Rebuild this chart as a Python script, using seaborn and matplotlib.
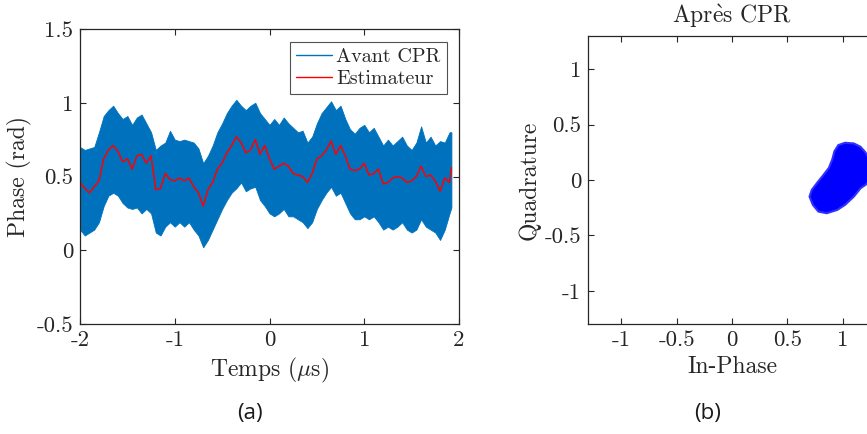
import numpy as np
import pandas as pd
import matplotlib
matplotlib.use("Agg")
import matplotlib.pyplot as plt
from matplotlib.lines import Line2D
import seaborn as sns

# ---------------- data ----------------
t = [-2.00, -1.95, -1.90, -1.85, -1.80, -1.75, -1.70, -1.65, -1.60, -1.55,
     -1.50, -1.45, -1.40, -1.35, -1.30, -1.25, -1.20, -1.15, -1.10, -1.05,
     -1.00, -0.95, -0.90, -0.85, -0.80, -0.75, -0.70, -0.65, -0.60, -0.55,
     -0.50, -0.45, -0.40, -0.35, -0.30, -0.25, -0.20, -0.15, -0.10, -0.05,
     0.00, 0.05, 0.10, 0.15, 0.20, 0.25, 0.30, 0.35, 0.40, 0.45,
     0.50, 0.55, 0.60, 0.65, 0.70, 0.75, 0.80, 0.85, 0.90, 0.95,
     1.00, 1.05, 1.10, 1.15, 1.20, 1.25, 1.30, 1.35, 1.40, 1.45,
     1.50, 1.55, 1.60, 1.65, 1.70, 1.75, 1.80, 1.85, 1.90, 1.92]

avant_upper = [0.70, 0.68, 0.69, 0.70, 0.80, 0.91, 0.95, 0.98, 0.93, 0.89,
               0.91, 0.85, 0.90, 0.92, 0.86, 0.80, 0.68, 0.71, 0.73, 0.81,
               0.75, 0.74, 0.75, 0.74, 0.73, 0.69, 0.59, 0.64, 0.71, 0.80,
               0.86, 0.93, 0.98, 1.02, 0.98, 0.95, 0.98, 1.00, 0.93, 0.89,
               0.85, 0.89, 0.85, 0.90, 0.86, 0.83, 0.80, 0.81, 0.73, 0.77,
               0.86, 0.93, 0.97, 1.01, 0.95, 0.98, 0.89, 0.82, 0.79, 0.83,
               0.85, 0.80, 0.83, 0.77, 0.71, 0.75, 0.71, 0.74, 0.77, 0.71,
               0.68, 0.73, 0.84, 0.73, 0.77, 0.71, 0.74, 0.73, 0.80, 0.80]

avant_lower = [0.14, 0.10, 0.12, 0.14, 0.19, 0.30, 0.37, 0.39, 0.37, 0.32,
               0.29, 0.28, 0.29, 0.25, 0.28, 0.25, 0.12, 0.10, 0.16, 0.19,
               0.16, 0.19, 0.16, 0.19, 0.14, 0.10, 0.02, 0.07, 0.14, 0.21,
               0.28, 0.34, 0.39, 0.42, 0.46, 0.40, 0.42, 0.43, 0.34, 0.30,
               0.25, 0.23, 0.25, 0.28, 0.23, 0.23, 0.21, 0.19, 0.15, 0.19,
               0.28, 0.34, 0.39, 0.43, 0.37, 0.39, 0.32, 0.25, 0.21, 0.21,
               0.23, 0.21, 0.23, 0.19, 0.14, 0.16, 0.14, 0.16, 0.19, 0.14,
               0.12, 0.14, 0.21, 0.16, 0.14, 0.12, 0.07, 0.14, 0.25, 0.29]

estimateur = [0.46, 0.42, 0.39, 0.43, 0.47, 0.62, 0.68, 0.71, 0.67, 0.60,
              0.62, 0.55, 0.64, 0.65, 0.59, 0.64, 0.41, 0.42, 0.52, 0.48,
              0.47, 0.49, 0.47, 0.49, 0.43, 0.39, 0.30, 0.41, 0.46, 0.55,
              0.59, 0.66, 0.71, 0.77, 0.73, 0.66, 0.68, 0.75, 0.65, 0.71,
              0.62, 0.55, 0.57, 0.59, 0.57, 0.52, 0.51, 0.50, 0.46, 0.52,
              0.62, 0.64, 0.68, 0.74, 0.65, 0.71, 0.64, 0.55, 0.54, 0.55,
              0.59, 0.51, 0.52, 0.55, 0.45, 0.46, 0.49, 0.50, 0.49, 0.46,
              0.47, 0.50, 0.57, 0.50, 0.51, 0.47, 0.40, 0.49, 0.46, 0.56]

# outline of the constellation cluster after CPR (In-Phase, Quadrature)
cluster_i = [0.96, 1.02, 1.10, 1.16, 1.20, 1.25, 1.27, 1.25, 1.21, 1.16,
             1.10, 1.02, 0.95, 0.855, 0.78, 0.73, 0.70, 0.72, 0.765, 0.825,
             0.875, 0.905, 0.925]
cluster_q = [0.315, 0.336, 0.33, 0.30, 0.255, 0.18, 0.08, 0.00, -0.04, -0.075,
             -0.15, -0.225, -0.27, -0.30, -0.285, -0.225, -0.15, -0.09, -0.03, 0.045,
             0.11, 0.185, 0.26]

xticks_a = [-2, -1, 0, 1, 2]
xticklabels_a = ["-2", "-1", "0", "1", "2"]
yticks_a = [-0.5, 0, 0.5, 1, 1.5]
yticklabels_a = ["-0.5", "0", "0.5", "1", "1.5"]
ticks_b = [-1, -0.5, 0, 0.5, 1]
ticklabels_b = ["-1", "-0.5", "0", "0.5", "1"]

df = pd.DataFrame({"t": t, "up": avant_upper, "lo": avant_lower, "est": estimateur})

# ---------------- style ----------------
sns.set_theme(style="white")
plt.rcParams["font.family"] = ["cmr10", "DejaVu Serif"]
plt.rcParams["mathtext.fontset"] = "cm"
plt.rcParams["axes.formatter.use_mathtext"] = True
plt.rcParams["axes.unicode_minus"] = False

BLUE = "#0072BD"
RED = "#FF0000"
SPINE = "#262626"
TICKFS = 16.5
LABFS = 17
LEGFS = 14.5

fig = plt.figure(figsize=(8.67, 4.34), dpi=100)

def style_axes(ax):
    for s in ax.spines.values():
        s.set_color(SPINE)
        s.set_linewidth(0.9)
        s.set_visible(True)
    ax.tick_params(direction="in", length=4, width=0.8, color=SPINE,
                   top=True, right=True, bottom=True, left=True,
                   labelsize=TICKFS, labelcolor=SPINE, pad=5)

# ---------------- panel (a) ----------------
axa = fig.add_axes([80 / 867, 1 - 324 / 434, 379 / 867, 295 / 434])
axa.fill_between(df["t"], df["lo"], df["up"], color=BLUE, linewidth=0.6,
                 edgecolor=BLUE)
sns.lineplot(data=df, x="t", y="est", ax=axa, color=RED, linewidth=1.1,
             legend=False)
axa.set_xlim(-2, 2)
axa.set_ylim(-0.5, 1.5)
axa.set_xticks(xticks_a)
axa.set_xticklabels(xticklabels_a)
axa.set_yticks(yticks_a)
axa.set_yticklabels(yticklabels_a)
axa.set_xlabel(r"Temps ($\mu$s)", fontsize=LABFS, color=SPINE, labelpad=4)
axa.set_ylabel("Phase (rad)", fontsize=LABFS, color=SPINE, labelpad=3)
style_axes(axa)
handles = [Line2D([], [], color=BLUE, lw=1.0), Line2D([], [], color=RED, lw=1.0)]
leg = axa.legend(handles, ["Avant CPR", "Estimateur"], loc="upper right",
                 bbox_to_anchor=(0.968, 0.956), borderaxespad=0,
                 fontsize=LEGFS, frameon=True, fancybox=False,
                 handlelength=1.8, handletextpad=0.2, borderpad=0.3,
                 labelspacing=0.2)
leg.get_frame().set_edgecolor(SPINE)
leg.get_frame().set_linewidth(0.8)

# ---------------- panel (b) ----------------
axb = fig.add_axes([588 / 867, 1 - 324 / 434, 288 / 867, 288 / 434])
axb.fill(cluster_i, cluster_q, color="#0000FF", linewidth=1.5,
         edgecolor="#3030FF")
axb.set_xlim(-1.3, 1.3)
axb.set_ylim(-1.3, 1.3)
axb.set_xticks(ticks_b)
axb.set_xticklabels(ticklabels_b)
axb.set_yticks(ticks_b)
axb.set_yticklabels(ticklabels_b)
axb.set_xlabel("In-Phase", fontsize=LABFS, color=SPINE, labelpad=4)
axb.set_ylabel("Quadrature", fontsize=LABFS, color=SPINE, labelpad=3)
axb.set_title(r"Apr$\grave{\mathrm{e}}$s CPR", fontsize=LABFS, color=SPINE, pad=9)
style_axes(axb)

# ---------------- captions ----------------
fig.text(250 / 867, 1 - 413 / 434, "(a)", ha="center", va="center",
         fontsize=16, family="Open Sans", color="#1a1a1a")
fig.text(708 / 867, 1 - 413 / 434, "(b)", ha="center", va="center",
         fontsize=16, family="Open Sans", color="#1a1a1a")

fig.savefig("out.png", dpi=100)
